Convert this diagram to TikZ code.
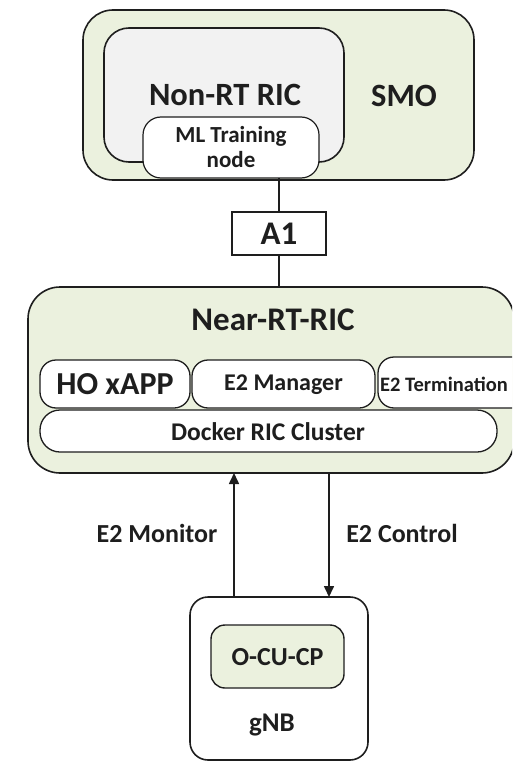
\documentclass[tikz,border=0pt]{standalone}
\usepackage{fontspec}
\setmainfont{Carlito}
\usetikzlibrary{arrows.meta}
\definecolor{smogreen}{HTML}{EBF1DE}
\definecolor{ricgray}{HTML}{F2F2F2}
\definecolor{linec}{HTML}{1E1E1E}
\begin{document}
\begin{tikzpicture}[x=1pt,y=-1pt,
  box/.style={draw=linec, line width=1.6pt, rounded corners=#1, inner sep=0pt, outer sep=0pt},
  txt/.style={font=\fontsize{#1}{#1}\selectfont\bfseries, text=linec, inner sep=0pt},
  conn/.style={draw=linec, line width=1.6pt},
  arr/.style={conn, -{Triangle[length=11pt,width=10pt]}}]
\useasboundingbox (0,0) rectangle (512,762);
\clip (0,0) rectangle (512,762);
% SMO
\node[box=30pt, fill=smogreen, minimum width=391pt, minimum height=170pt] (smo) at (278.5,95) {};
\node[box=25pt, fill=ricgray, minimum width=240pt, minimum height=134pt] (nonrt) at (224,95) {};
\node[txt=32.5] (nonrtlbl) at (225,95) {Non-RT RIC};
\node[txt=32.5] (smolbl) at (404,96) {SMO};
\node[box=18pt, fill=white, line width=1.2pt, minimum width=176pt, minimum height=61pt,
      align=center, font=\fontsize{23}{25}\selectfont\bfseries, text=linec] (ml) at (231,147.5) {ML Training\\node};
% A1
\node[draw=linec, line width=1.2pt, fill=white, minimum width=94pt, minimum height=43pt, inner sep=0pt] (a1) at (279,233.5) {};
\node[txt=33] (a1lbl) at (279,234) {A1};
% Near-RT-RIC
\node[box=32pt, fill=smogreen, minimum width=486pt, minimum height=186pt] (nrt) at (271,380) {};
\node[txt=33] (nrtlbl) at (273,320) {Near-RT-RIC};
\node[box=16pt, fill=white, line width=1.3pt, minimum width=150pt, minimum height=48pt] (ho) at (115,384) {};
\node[txt=32] (holbl) at (115,384) {HO xAPP};
\node[box=16pt, fill=white, line width=1.3pt, minimum width=183pt, minimum height=48pt] (e2m) at (283.5,384) {};
\node[txt=24] (e2mlbl) at (283.5,385) {E2 Manager};
\node[box=16pt, fill=white, line width=1.3pt, minimum width=152pt, minimum height=51pt] (e2t) at (454,382.5) {};
\node[txt=20.5, anchor=west] (e2tlbl) at (380,384) {E2 Termination};
\node[box=20pt, fill=white, line width=1.3pt, minimum width=457pt, minimum height=42pt] (docker) at (268.5,431) {};
\node[txt=25.5] (dockerlbl) at (268,432) {Docker RIC Cluster};
% gNB
\node[box=18pt, fill=white, minimum width=178pt, minimum height=163pt] (gnb) at (279,678.5) {};
\node[box=14pt, fill=smogreen, line width=1.4pt, minimum width=133pt, minimum height=63pt] (ocu) at (277.5,656.5) {};
\node[txt=26] (oculbl) at (277.5,657) {O-CU-CP};
\node[txt=27] (gnblbl) at (272,725) {gNB};
% connectors
\draw[conn] (ml.south -| a1.north) -- (a1.north);
\draw[conn] (a1.south) -- (a1.south |- nrt.north);
\coordinate (mon) at (234,0);
\coordinate (ctl) at (329,0);
\draw[arr] (mon |- gnb.north) -- (mon |- nrt.south);
\draw[arr] (ctl |- nrt.south) -- (ctl |- gnb.north);
\node[txt=26] (monlbl) at (157,533) {E2 Monitor};
\node[txt=26] (ctllbl) at (402,533) {E2 Control};
\end{tikzpicture}
\end{document}
